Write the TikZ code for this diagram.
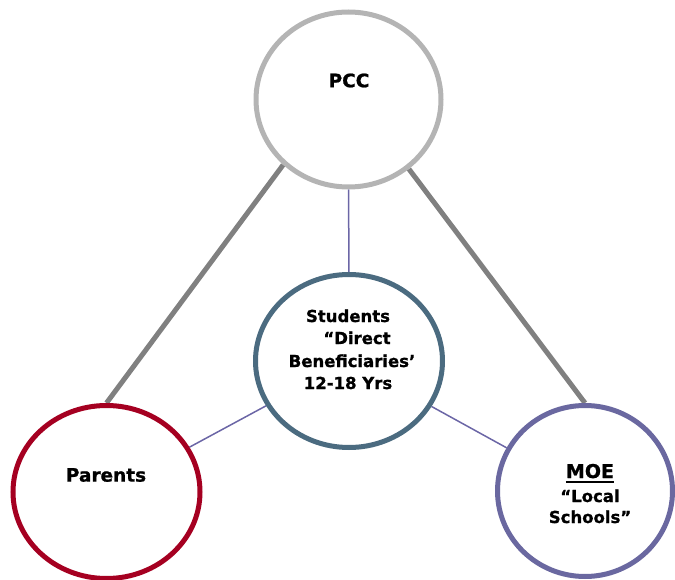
\documentclass[tikz,border=0pt]{standalone}
\usepackage{fontspec}
\setmainfont{DejaVu Sans}[BoldFeatures={FakeBold=1}]
\usetikzlibrary{shapes.geometric,backgrounds}
\definecolor{pccgray}{HTML}{B4B4B4}
\definecolor{linkgray}{HTML}{808080}
\definecolor{stublue}{HTML}{4B6B80}
\definecolor{parred}{HTML}{A50021}
\definecolor{moepurple}{HTML}{6A68A0}
\definecolor{thinpurple}{HTML}{6B66A6}
\newcommand\myul[1]{\setbox0\hbox{#1}\rlap{\rule[-4.5pt]{\wd0}{1.8pt}}\box0}
\tikzset{
  ring/.style={ellipse, line width=5pt, fill=white, inner sep=0pt},
  thick link/.style={line width=5pt, draw=linkgray},
  thin link/.style={line width=1.5pt, draw=thinpurple},
  bigtxt/.style={font=\fontsize{18.5}{22}\selectfont\bfseries, inner sep=0pt},
  smalltxt/.style={font=\fontsize{16.5}{22}\selectfont\bfseries, inner sep=0pt, anchor=base},
}
\begin{document}
\begin{tikzpicture}[x=1pt,y=-1pt]
\useasboundingbox (0,0) rectangle (675,580);
\clip (0,0) rectangle (675,580);
\node[ring, draw=pccgray, minimum width=185pt, minimum height=175pt] (pcc) at (348.5,99.5) {};
\node[ring, draw=stublue, minimum width=187pt, minimum height=173pt] (stu) at (349,361) {};
\node[ring, draw=parred, minimum width=187pt, minimum height=173pt] (par) at (106.5,492) {};
\node[ring, draw=moepurple, minimum width=175pt, minimum height=171pt] (moe) at (585,491) {};
\begin{scope}[on background layer]
\draw[thick link] (pcc.225) -- (par.north);
\draw[thick link] (pcc.311) -- (moe.north);
\draw[thin link] (pcc) -- (stu);
\draw[thin link] (stu) -- (par);
\draw[thin link] (stu) -- (moe);
\end{scope}
\node[bigtxt] (pcct) at (349,80.5) {PCC};
\node[bigtxt] (part) at (106,475) {Parents};
\node[smalltxt] (stu1) at (348,322) {Students};
\node[smalltxt] (stu2) at (348,344) {\hspace*{18pt}“Direct};
\node[smalltxt] (stu3) at (352,367) {Beneficiaries’};
\node[smalltxt] (stu4) at (348,389) {12-18 Yrs};
\node[smalltxt, font=\fontsize{19}{22}\selectfont\bfseries] (moe1) at (590,478) {\myul{MOE}};
\node[smalltxt] (moe2) at (590,502) {“Local};
\node[smalltxt] (moe3) at (590,523) {Schools”};
\end{tikzpicture}
\end{document}
